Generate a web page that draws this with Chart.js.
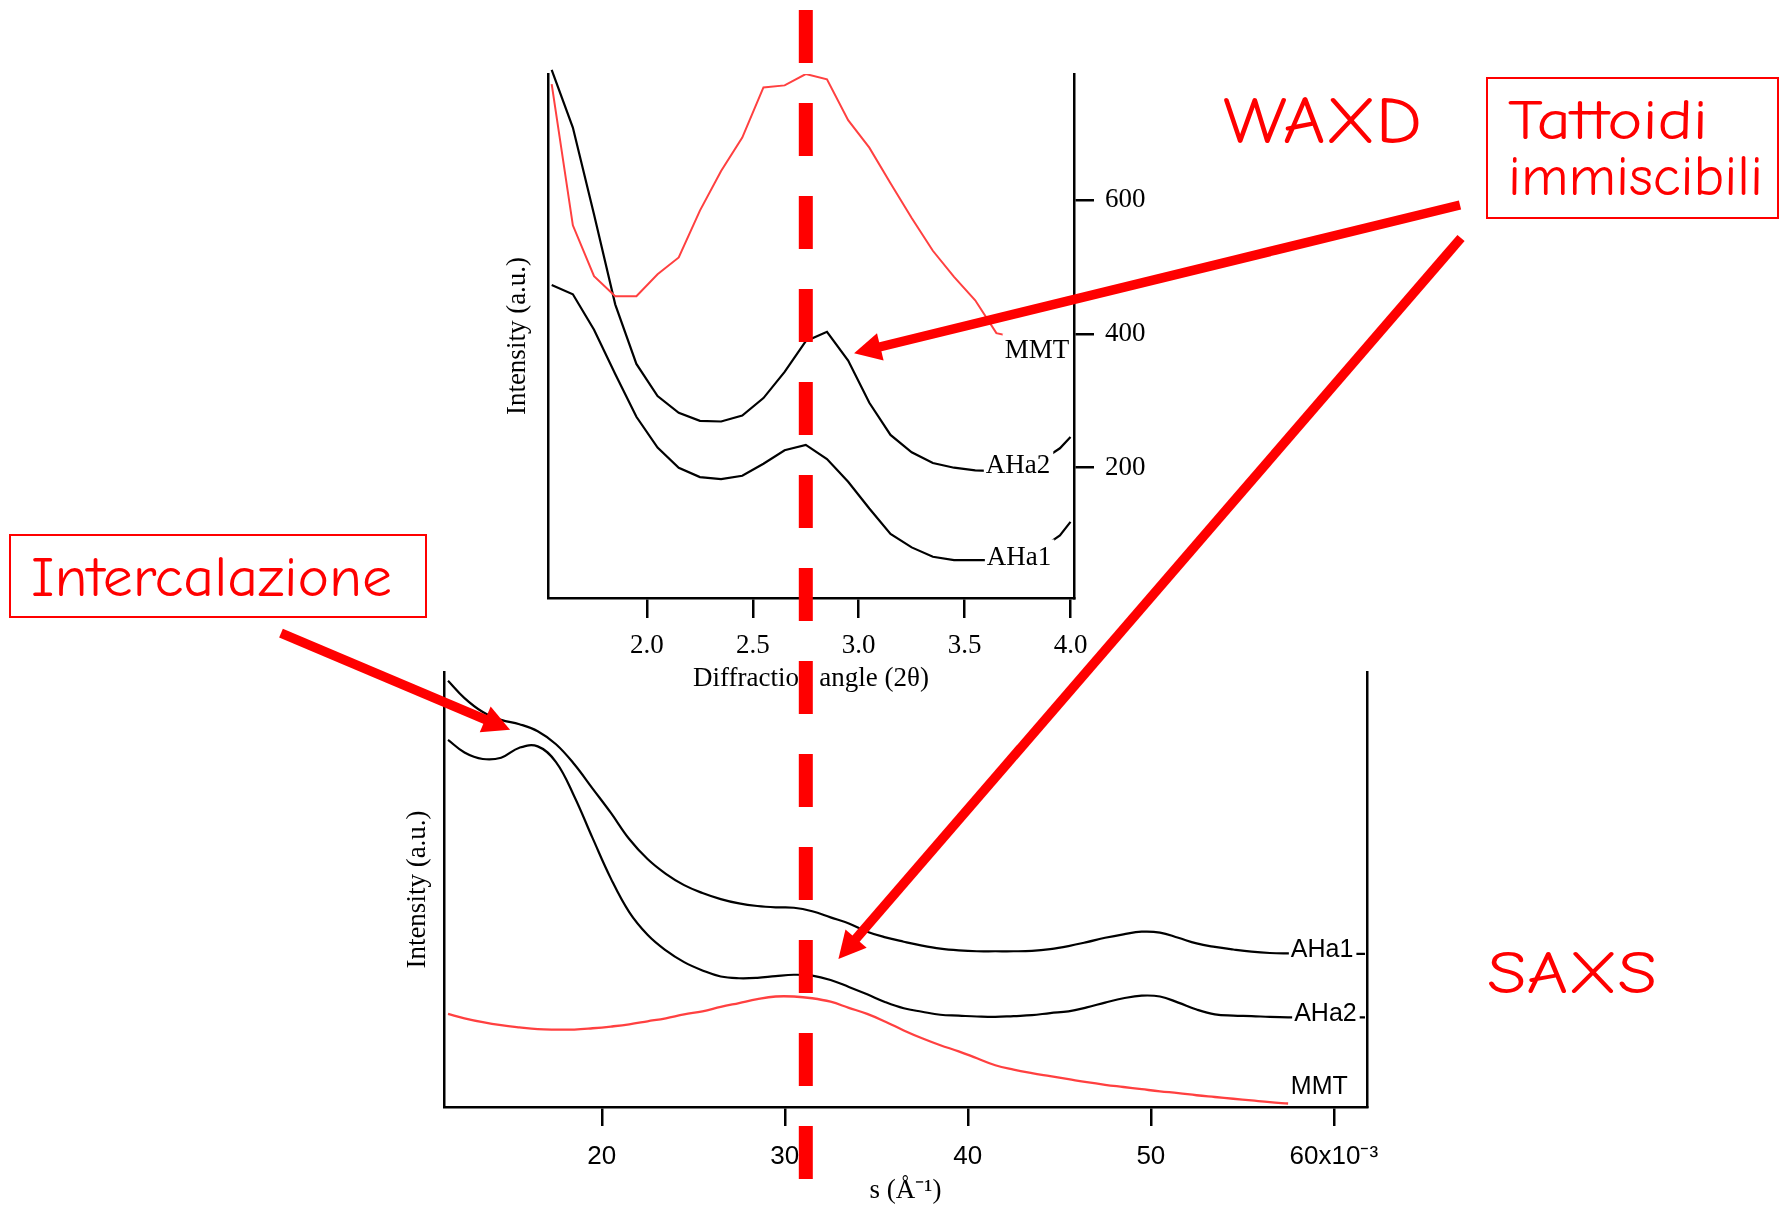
<!DOCTYPE html>
<html>
<head>
<meta charset="utf-8">
<title>WAXD / SAXS</title>
<script src="https://cdn.jsdelivr.net/npm/chart.js@4.4.1/dist/chart.umd.min.js"></script>
<style>
  body { margin: 0; background: #fff; }
  #page { position: relative; width: 1780px; height: 1208px; overflow: hidden; background: #fff; }
  #page canvas, #page svg { position: absolute; left: 0; top: 0; }
</style>
</head>
<body>
<div id="page">
  <canvas id="waxdChart" width="1780" height="1208"></canvas>
  <canvas id="saxsChart" width="1780" height="1208"></canvas>
  <svg id="notes" width="1780" height="1208" xmlns="http://www.w3.org/2000/svg"></svg>
</div>
<script>
// ---- WAXD: diffraction angle (2theta) vs intensity ----
const waxdAngle = [1.55, 1.65, 1.75, 1.85, 1.95, 2.05, 2.15, 2.25, 2.35, 2.45, 2.55, 2.65, 2.75,
  2.85, 2.95, 3.05, 3.15, 3.25, 3.35, 3.45, 3.55, 3.65, 3.75, 3.85, 3.95, 4.0];
const waxdMMT = [773, 562, 486, 456, 456, 489, 514, 584, 643, 693, 768, 771, 788,
  780, 719, 678, 625, 573, 524, 485, 450, 401, 394, 384, 368, 352];
const waxdAHa2 = [794, 708, 578, 444, 355, 307, 282, 270, 269, 278, 304, 343, 389,
  403, 360, 297, 249, 223, 207, 200, 196, 195, 199, 208, 229, 246];
const waxdAHa1 = [473, 459, 406, 340, 276, 230, 200, 186, 183, 188, 206, 226, 234,
  213, 179, 139, 101, 81, 67, 62, 62, 62, 66, 77, 99, 119];
const waxdTicks = [200, 400, 600];

// ---- SAXS: s (x10^-3 A^-1) vs intensity (a.u.) ----
const saxsS = [11.6, 12.5, 13.5, 14.5, 15.5, 16.5, 17.5, 18.5, 19.5, 20.5, 21.5, 22.5, 23.5,
  24.5, 25.5, 26.5, 27.5, 28.5, 29.5, 30.5, 31.5, 32.5, 33.5, 34.5, 35.5, 36.5, 37.5, 38.5,
  39.5, 40.5, 41.5, 42.5, 43.5, 44.5, 45.5, 46.5, 47.5, 48.5, 49.5, 50.5, 51.5, 52.5, 53.5,
  54.5, 55.5, 56.5, 57.5, 59.5, 61.7];
const saxsAHa1 = [98, 94, 90.8, 89, 88, 86.4, 83.4, 78.8, 73.2, 67.6, 61.6, 57, 53.6,
  51, 49.2, 47.8, 46.8, 46.2, 45.9, 45.8, 45.0, 43.6, 42.2, 40.3, 39, 38, 37.1, 36.4,
  36, 35.8, 35.8, 35.8, 35.9, 36.3, 37.0, 37.9, 38.9, 39.7, 40.3, 40.1, 38.9, 37.6, 36.8,
  36.2, 35.7, 35.4, 35.3, 35.2, 35.2];
const saxsAHa2 = [84.4, 81.5, 80.0, 80.3, 82.6, 82.9, 79.3, 71.4, 61.8, 52.5, 44.8, 39.6, 36.0,
  33.3, 31.4, 30.0, 29.6, 29.7, 30.1, 30.4, 30.2, 29.2, 27.6, 25.9, 24.1, 22.7, 21.9, 21.2,
  21.0, 20.8, 20.7, 20.9, 21.1, 21.6, 22.0, 22.9, 24.0, 25.0, 25.6, 25.4, 24.0, 22.4, 21.3,
  21.0, 20.9, 20.7, 20.6, 20.6, 20.6];
const saxsMMT = [21.4, 20.4, 19.5, 18.8, 18.3, 17.9, 17.8, 17.8, 18.1, 18.5, 19.0, 19.7, 20.4,
  21.3, 22.0, 23.0, 23.9, 24.8, 25.4, 25.4, 25.0, 24.2, 22.8, 21.4, 19.6, 17.6, 15.8, 14.2,
  12.8, 11.2, 9.6, 8.6, 7.8, 7.1, 6.4, 5.7, 5.1, 4.6, 4.1, 3.6, 3.2, 2.7, 2.3,
  1.9, 1.5, 1.1, 0.8, null, null];
const saxsTicks = [20, 30, 40, 50, 60];

// peak position marked by the dashed line
const markAngle = 2.75;

// curve name tags (Igor style, opaque background), anchored in data units
const tagSets = {
  waxdChart: { font: "27px 'Liberation Serif', serif", boxH: 36, tags: [
    { text: 'MMT', x: 3.689, y: 374 },
    { text: 'AHa2', x: 3.600, y: 203 },
    { text: 'AHa1', x: 3.605, y: 66 }
  ]},
  saxsChart: { font: "25px 'Liberation Sans', Arial, sans-serif", boxH: 28, tags: [
    { text: 'AHa1', x: 57.65, y: 36 },
    { text: 'AHa2', x: 57.83, y: 21.4 },
    { text: 'MMT', x: 57.65, y: 4.6 }
  ]}
};

const serif = "'Liberation Serif', 'Times New Roman', serif";
const sans = "'Liberation Sans', Arial, sans-serif";
const redCurve = '#ff4040';

const pts = (xs, ys) => xs.map((x, i) => ({ x: x, y: ys[i] }));

const tagPlugin = {
  id: 'curveTags',
  afterDatasetsDraw(chart) {
    const set = tagSets[chart.canvas.id];
    const ctx = chart.ctx;
    const xs = chart.scales.x, ys = chart.scales.y;
    ctx.save();
    ctx.font = set.font;
    ctx.textBaseline = 'middle';
    set.tags.forEach(t => {
      const px = xs.getPixelForValue(t.x);
      const py = ys.getPixelForValue(t.y);
      const w = ctx.measureText(t.text).width;
      ctx.fillStyle = '#fff';
      ctx.fillRect(px - 2, py - set.boxH / 2, w + 5, set.boxH);
      ctx.fillStyle = '#000';
      ctx.fillText(t.text, px, py);
    });
    ctx.restore();
  }
};

const axisBorder = { display: true, color: '#000', width: 2.5 };
const tickGrid = (len) => ({ drawOnChartArea: false, drawTicks: true, tickLength: len,
  tickWidth: 2.5, tickColor: '#000', color: '#000', lineWidth: 2.5 });

const lineSet = (label, data, color, extra) => Object.assign({
  label: label, data: data, borderColor: color, borderWidth: 2.2,
  pointRadius: 0, fill: false, tension: 0
}, extra || {});

// ---------- WAXD ----------
const waxd = new Chart(document.getElementById('waxdChart').getContext('2d'), {
  type: 'line',
  data: {
    datasets: [
      lineSet('MMT', pts(waxdAngle, waxdMMT), redCurve, { borderWidth: 2 }),
      lineSet('AHa2', pts(waxdAngle, waxdAHa2), '#000', { clip: false }),
      lineSet('AHa1', pts(waxdAngle, waxdAHa1), '#000')
    ]
  },
  options: {
    responsive: false,
    animation: false,
    events: [],
    layout: { padding: { left: 502, right: 606, top: 74, bottom: 513 } },
    plugins: { legend: { display: false }, tooltip: { enabled: false } },
    scales: {
      x: {
        type: 'linear', min: 1.5326, max: 4.0165,
        afterFit: s => { s.height = 97; },
        grid: tickGrid(20),
        border: axisBorder,
        ticks: {
          stepSize: 0.5, includeBounds: false, autoSkip: false, maxRotation: 0,
          padding: 12, color: '#000', font: { family: serif, size: 27 },
          callback: v => v.toFixed(1)
        },
        title: { display: true, text: 'Diffraction angle (2θ)', color: '#000',
          font: { family: serif, size: 27 }, padding: 0 }
      },
      y: {
        position: 'right', min: 5.4, max: 788,
        afterFit: s => { s.width = 100; },
        grid: tickGrid(20),
        border: axisBorder,
        afterBuildTicks: s => { s.ticks = waxdTicks.map(v => ({ value: v })); },
        ticks: { padding: 11, color: '#000', font: { family: serif, size: 27 },
          callback: v => String(v) }
      },
      yLeft: {
        position: 'left', min: 5.4, max: 788,
        afterFit: s => { s.width = 46; },
        grid: { display: false },
        border: axisBorder,
        ticks: { display: false },
        title: { display: true, text: 'Intensity (a.u.)', color: '#000',
          font: { family: serif, size: 27 }, padding: 0 }
      }
    }
  },
  plugins: [tagPlugin]
});

// ---------- SAXS ----------
const saxs = new Chart(document.getElementById('saxsChart').getContext('2d'), {
  type: 'line',
  data: {
    datasets: [
      lineSet('MMT', pts(saxsS, saxsMMT), redCurve, { borderWidth: 2.3, tension: 0.4 }),
      lineSet('AHa2', pts(saxsS, saxsAHa2), '#000', { tension: 0.4 }),
      lineSet('AHa1', pts(saxsS, saxsAHa1), '#000', { tension: 0.4 })
    ]
  },
  options: {
    responsive: false,
    animation: false,
    events: [],
    layout: { padding: { left: 402, right: 393, top: 672, bottom: 1 } },
    plugins: { legend: { display: false }, tooltip: { enabled: false } },
    scales: {
      x: {
        type: 'linear', min: 11.38, max: 61.81,
        afterFit: s => { s.height = 100; },
        grid: tickGrid(19),
        border: axisBorder,
        afterBuildTicks: s => { s.ticks = saxsTicks.map(v => ({ value: v })); },
        ticks: {
          autoSkip: false, maxRotation: 0, padding: 15, color: '#000',
          font: { family: sans, size: 26 },
          callback: v => (v === 60 ? '60x10\u207B\u00B3' : String(v))
        },
        title: { display: true, text: 's (\u00C5\u207B\u00B9)', color: '#000',
          font: { family: serif, size: 27 }, padding: 0 }
      },
      y: {
        position: 'left', min: 0, max: 100,
        afterFit: s => { s.width = 42; },
        grid: { display: false },
        border: axisBorder,
        ticks: { display: false },
        title: { display: true, text: 'Intensity (a.u.)', color: '#000',
          font: { family: serif, size: 27 }, padding: 0 }
      },
      yRight: {
        position: 'right', min: 0, max: 100,
        afterFit: s => { s.width = 20; },
        grid: { display: false },
        border: axisBorder,
        ticks: { display: false }
      }
    }
  },
  plugins: [tagPlugin]
});

// ---------- annotations (red dashed marker, arrows, captions) ----------
const svg = document.getElementById('notes');
const NS = 'http://www.w3.org/2000/svg';
const red = '#ff0000';
const comic = "'Comic Sans MS', 'Comic Neue', 'DejaVu Sans', sans-serif";

function add(tag, attrs, text) {
  const el = document.createElementNS(NS, tag);
  Object.keys(attrs).forEach(k => el.setAttribute(k, attrs[k]));
  if (text) el.textContent = text;
  svg.appendChild(el);
  return el;
}

function arrow(x1, y1, x2, y2) {
  const len = Math.hypot(x2 - x1, y2 - y1);
  const ux = (x2 - x1) / len, uy = (y2 - y1) / len;
  const head = 27, half = 14;
  const bx = x2 - ux * head, by = y2 - uy * head;
  add('line', { x1: x1, y1: y1, x2: bx + ux * 3, y2: by + uy * 3,
    stroke: red, 'stroke-width': 9.5 });
  add('polygon', { fill: red, points: [
    x2 + ',' + y2,
    (bx - uy * half) + ',' + (by + ux * half),
    (bx + uy * half) + ',' + (by - ux * half)
  ].join(' ') });
}

const markX = waxd.scales.x.getPixelForValue(markAngle);
add('line', { x1: markX, y1: 10, x2: markX, y2: 1181, stroke: red,
  'stroke-width': 14, 'stroke-dasharray': '53 40' });

// arrows point at features in the two plots
arrow(1460, 205, waxd.scales.x.getPixelForValue(2.978), waxd.scales.y.getPixelForValue(371));
arrow(1461, 238, saxs.scales.x.getPixelForValue(32.93), saxs.scales.y.getPixelForValue(34));
arrow(281, 633, saxs.scales.x.getPixelForValue(14.99), saxs.scales.y.getPixelForValue(86.7));

add('rect', { x: 10, y: 535, width: 416, height: 82, fill: 'none', stroke: red, 'stroke-width': 2 });
add('rect', { x: 1487, y: 78, width: 291, height: 140, fill: 'none', stroke: red, 'stroke-width': 2 });

const caption = (txt, x, y, size, len) => add('text', { x: x, y: y, fill: red,
  'font-family': comic, 'font-size': size, textLength: len, lengthAdjust: 'spacingAndGlyphs' }, txt);
caption('WAXD', 1223, 143, 66, 199);
caption('SAXS', 1487, 993, 60, 170);
caption('Tattoidi', 1508, 139, 56, 200);
caption('immiscibili', 1508, 195, 56, 255);
caption('Intercalazione', 31, 596, 56, 361);
</script>
</body>
</html>
